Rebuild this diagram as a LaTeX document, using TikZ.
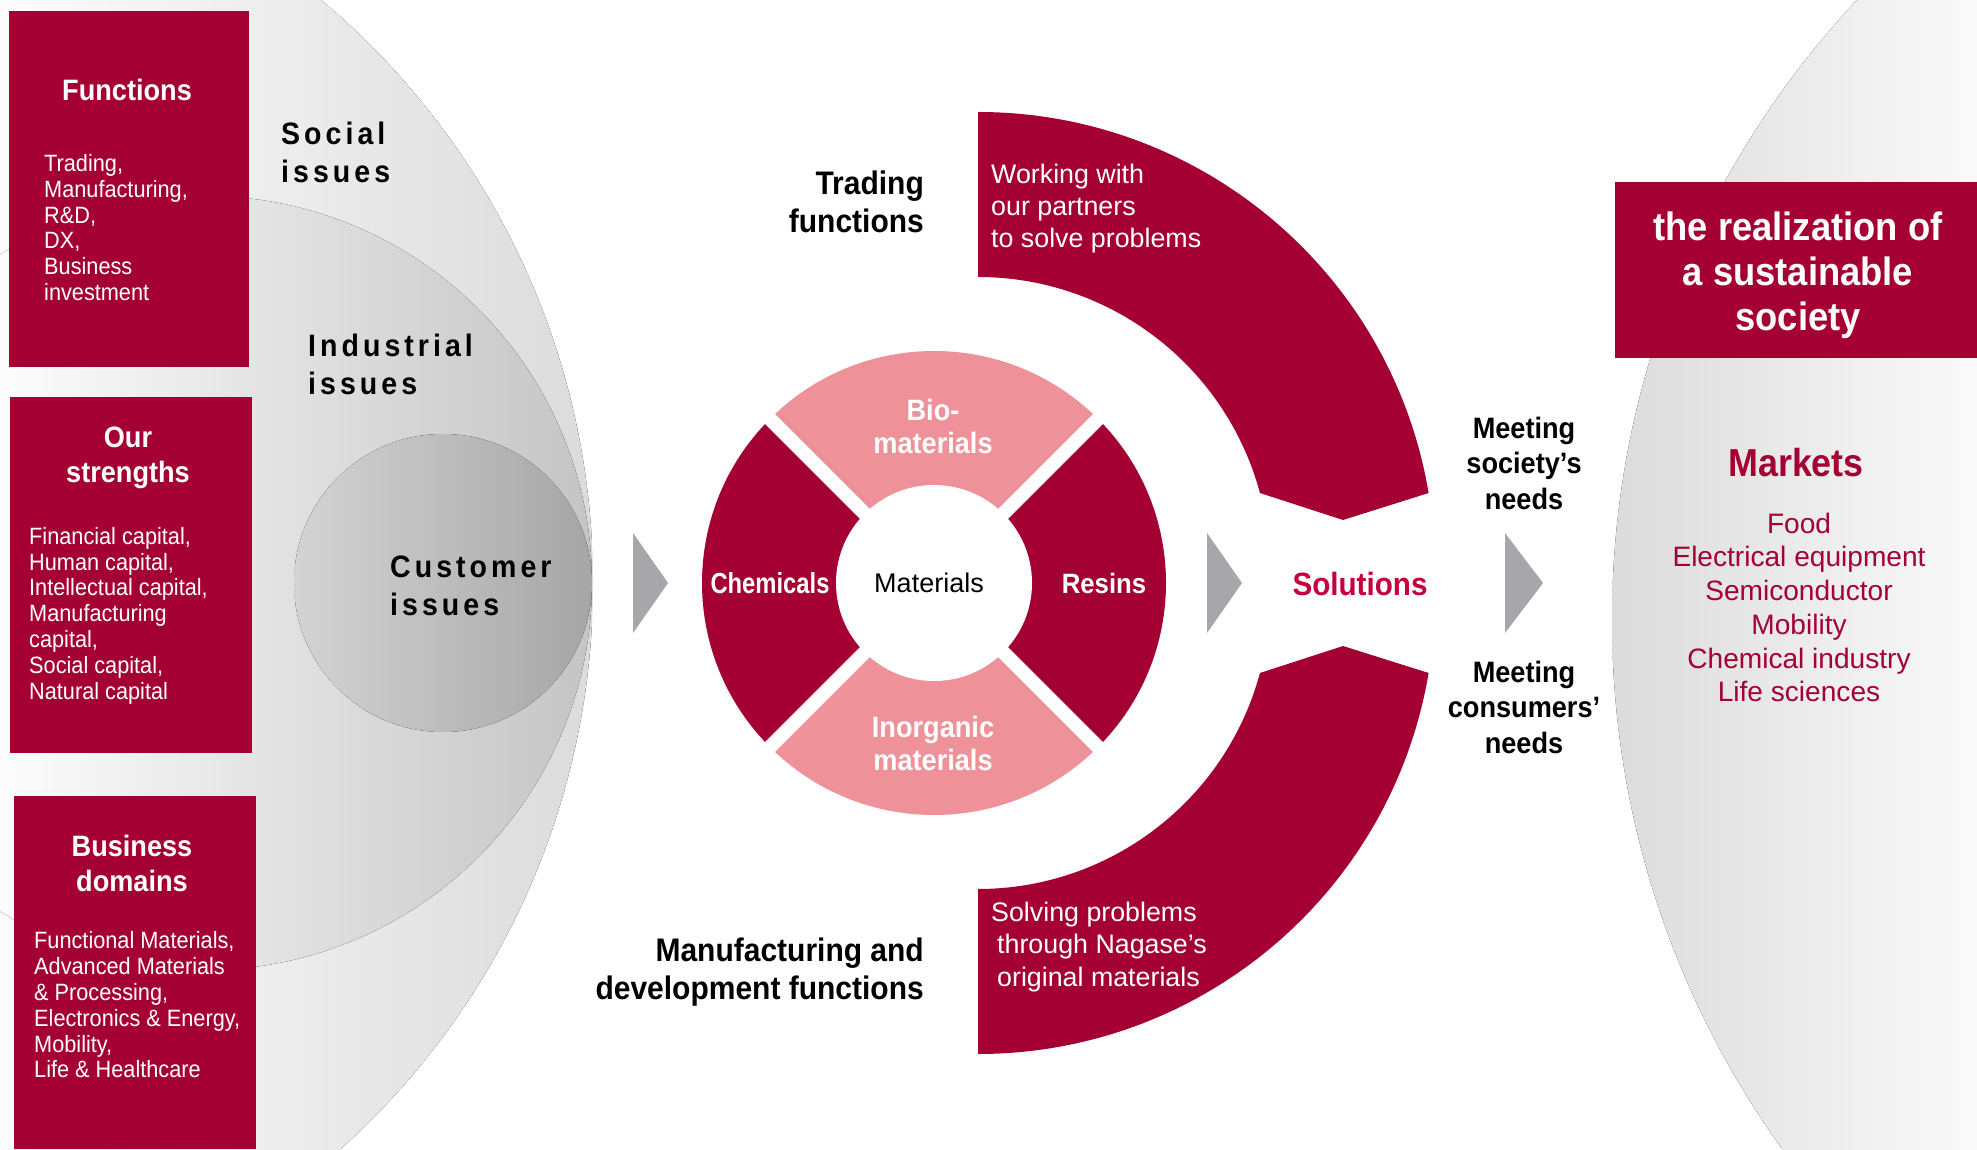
\documentclass[tikz,border=0pt]{standalone}
\usepackage{fontspec}
\setmainfont{Liberation Sans}
\newfontfamily\cond{Liberation Sans}[FakeStretch=0.92]
\newfontfamily\xcond{Liberation Sans}[FakeStretch=0.82]
\newfontfamily\spaced{Liberation Sans}[FakeStretch=0.92,LetterSpace=13]
\usetikzlibrary{calc}

\definecolor{reddish}{RGB}{165,0,52}
\definecolor{pinkish}{RGB}{239,145,153}
\definecolor{crimsonish}{RGB}{196,0,62}
\definecolor{greyish}{RGB}{167,167,171}

\begin{document}
\begin{tikzpicture}[
  x=1pt,
  y=1pt,
  box/.style={
    fill=reddish,
    draw=none,
    inner sep=0pt,
    anchor=south west,
  },
  boxtitle/.style={
    text=white,
    align=center,
    inner sep=0pt,
    font=\cond\bfseries\fontsize{29.5}{35}\selectfont
  },
  boxbody/.style={
    text=white,
    align=left,
    anchor=west,
    inner sep=0pt,
    font=\cond\fontsize{23.6}{25.8}\selectfont
  },
  issue/.style={
    anchor=west,
    align=left,
    inner sep=0pt,
    font=\spaced\bfseries\fontsize{31}{38}\selectfont
  },
  func/.style={
    anchor=east,
    align=right,
    inner sep=0pt,
    font=\cond\bfseries\fontsize{32.6}{38}\selectfont
  },
  bandtext/.style={
    anchor=west,
    align=left,
    text=white,
    inner sep=0pt,
    font=\fontsize{26.8}{32.3}\selectfont
  },
  seg/.style={
    text=white,
    align=center,
    inner sep=0pt,
    font=\cond\bfseries\fontsize{29.5}{33}\selectfont
  },
  needs/.style={
    align=center,
    inner sep=0pt,
    font=\cond\bfseries\fontsize{29.5}{35.5}\selectfont
  },
  chevron/.style={
    fill=greyish
  }
]

\useasboundingbox (0,0) rectangle (1977,1149);
\fill[white] (0,0) rectangle (1977,1149);

% Issues circles
\begin{scope}
  \clip (-168,566) circle[radius=761];
  \fill[left color=black!1, right color=black!14] (0,0) rectangle (593,1149);
\end{scope}
\begin{scope}
  \clip (205,566) circle[radius=387];
  \fill[left color=black!1, right color=black!23] (0,0) rectangle (592,1149);
\end{scope}
\begin{scope}
  \clip (443,566) circle[radius=149];
  \fill[left color=black!17, right color=black!35] (294,417) rectangle (592,715);
\end{scope}

% Markets circle
\begin{scope}
  \clip (2519,529) circle[radius=907];
  \fill[left color=black!14, right color=black!2] (1612,0) rectangle (1977,1149);
\end{scope}

% Boxes
\node[box, minimum width=240, minimum height=356] (funcbox) at (9,782) {};
\node[box, minimum width=242, minimum height=356] (strbox) at (10,396) {};
\node[box, minimum width=242, minimum height=353] (dombox) at (14,0) {};
\node[box, minimum width=362, minimum height=176] (realbox) at (1615,791) {};

\node[boxtitle] (functions) at (127,1059) {Functions};
\node[boxbody] (funcbody) at (44,921.5) {Trading,\\Manufacturing,\\R\&D,\\DX,\\Business\\investment};
\node[boxtitle] (strengths) at (128,691) {Our\\strengths};
\node[boxbody] (strbody) at (29,533.5) {Financial capital,\\Human capital,\\Intellectual capital,\\Manufacturing\\capital,\\Social capital,\\Natural capital};
\node[boxtitle] (domains) at (132,286) {Business\\domains};
\node[boxbody] (dombody) at (34,144) {Functional Materials,\\Advanced Materials\\\& Processing,\\Electronics \& Energy,\\Mobility,\\Life \& Healthcare};

% Issues
\node[issue] (social) at (281,997) {Social\\issues};
\node[issue] (industrial) at (308,785) {Industrial\\issues};
\node[issue] (customer) at (390,563) {Customer\\issues};

% Arrows
\fill[chevron] (633,616) -- (668,566) -- (633,516) -- cycle;
\fill[chevron] (1207,616) -- (1242,566) -- (1207,516) -- cycle;
\fill[chevron] (1505,616) -- (1543,566) -- (1505,516) -- cycle;

% Ring
\coordinate (ring) at (934,566);
\foreach \a/\c in {45/pinkish,135/reddish,225/pinkish,315/reddish} {
  \fill[\c] (ring) -- ++(\a:232) arc[start angle=\a, delta angle=90, radius=232] -- cycle;
}
\foreach \a in {45,135,225,315} {
  \draw[white,line width=14] (ring) -- ++(\a:245);
}
\fill[white] (ring) circle[radius=98];

\node[seg] (bio) at (933,723) {Bio-\\materials};
\node[seg] (inorganic) at (933,406) {Inorganic\\materials};
\node[seg, font=\xcond\bfseries\fontsize{29}{33}\selectfont] (chemicals) at (770,566) {Chemicals};
\node[seg, font=\cond\bfseries\fontsize{28}{33}\selectfont] (resins) at (1104,566) {Resins};
\node[inner sep=0pt, font=\fontsize{27}{30}\selectfont] (materials) at (929,566) {Materials};

% Bands
\coordinate (tc) at (978,580);
\coordinate (bc) at (978,552);
\fill[reddish] (978,1037) arc[start angle=90, end angle=9.572, radius=457]
  -- (1343,629) -- ($(tc)+(15.087:292)$)
  arc[start angle=15.087, end angle=90, radius=292] -- cycle;
\fill[reddish] (978,95) arc[start angle=270, end angle=350.428, radius=457]
  -- (1343,503) -- ($(bc)+(-15.087:292)$)
  arc[start angle=344.913, end angle=270, radius=292] -- cycle;

\node[bandtext] (working) at (991,940.5) {Working with\\our partners\\to solve problems};
\node[bandtext] (solving) at (991,202) {Solving problems\\\hspace*{6pt}through Nagase’s\\\hspace*{6pt}original materials};

\node[func] (trading) at (924,947) {Trading\\functions};
\node[func] (manufacturing) at (924,177) {Manufacturing and\\development functions};

% Solutions and needs
\node[inner sep=0pt, text=crimsonish, font=\cond\bfseries\fontsize{32.2}{36}\selectfont] (solutions) at (1360,565) {Solutions};
\node[needs] (societyneeds) at (1524,686) {Meeting\\society’s\\needs};
\node[needs] (consumerneeds) at (1524,442) {Meeting\\consumers’\\needs};

% Society and markets
\node[inner sep=0pt, align=center, text=white, font=\cond\bfseries\fontsize{39.5}{44.8}\selectfont] (realization) at (1798,874) {the realization of\\a sustainable\\society};
\node[inner sep=0pt, text=reddish, font=\cond\bfseries\fontsize{39}{44}\selectfont] (markets) at (1796,686) {Markets};
\node[inner sep=0pt, align=center, text=reddish, font=\fontsize{28.1}{33.7}\selectfont] (marketlist) at (1799,541.5) {Food\\Electrical equipment\\Semiconductor\\Mobility\\Chemical industry\\Life sciences};

\end{tikzpicture}
\end{document}
